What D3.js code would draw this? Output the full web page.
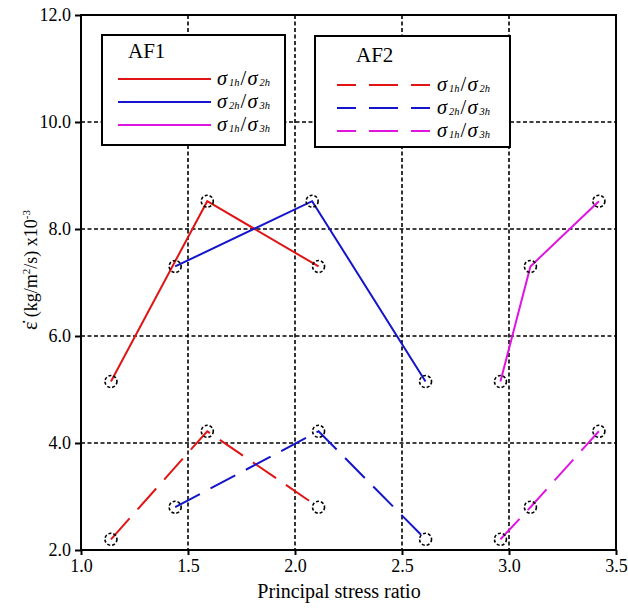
<!DOCTYPE html>
<html>
<head>
<meta charset="utf-8">
<script src="https://cdn.jsdelivr.net/npm/d3@7"></script>
<style>
  html, body { margin: 0; padding: 0; background: #fff; }
  svg { display: block; }
  text { font-family: "Liberation Serif", "Times New Roman", serif; fill: #000; }
</style>
</head>
<body>
<svg id="chart" width="628" height="608"></svg>
<script>
// Principal stress ratio for each loading path
const ratioRed     = [1.14, 1.59, 2.11];
const ratioBlueAF1 = [1.44, 2.08, 2.61];
const ratioBlueAF2 = [1.44, 2.11, 2.61];
const ratioMagenta = [2.96, 3.10, 3.42];

// Strain rate values (x10^-3 kg/m²/s)
const af1Red     = [5.15, 8.52, 7.30];
const af1Blue    = [7.30, 8.52, 5.15];
const af1Magenta = [5.15, 7.30, 8.52];
const af2Red     = [2.20, 4.22, 2.80];
const af2Blue    = [2.80, 4.22, 2.20];
const af2Magenta = [2.20, 2.80, 4.22];

const xTicks = [1.0, 1.5, 2.0, 2.5, 3.0, 3.5];
const yTicks = [2.0, 4.0, 6.0, 8.0, 10.0, 12.0];
const pathLabels = [["1h", "2h"], ["2h", "3h"], ["1h", "3h"]];
const pathColors = ["#e01414", "#1414cc", "#e014e0"];

const SERIF = "Liberation Serif, Times New Roman, serif";
const svg = d3.select("#chart");
const pL = 81, pR = 616, pT = 15, pB = 550;

const x = d3.scaleLinear().domain([1.0, 3.5]).range([pL, pR]);
const y = d3.scaleLinear().domain([2.0, 12.0]).range([pB, pT]);

// Dashed grid
const grid = svg.append("g");
grid.selectAll("line.vg").data(xTicks.slice(1, -1)).join("line")
  .attr("x1", d => x(d)).attr("x2", d => x(d))
  .attr("y1", pT).attr("y2", pB)
  .attr("stroke", "#000").attr("stroke-width", 1.6).attr("stroke-dasharray", "4,2.5");
grid.selectAll("line.hg").data(yTicks.slice(1, -1)).join("line")
  .attr("x1", pL).attr("x2", pR)
  .attr("y1", d => y(d)).attr("y2", d => y(d))
  .attr("stroke", "#000").attr("stroke-width", 1.6).attr("stroke-dasharray", "4,2.5");

// Axes
const xAxis = d3.axisBottom(x).tickValues(xTicks).tickFormat(d3.format(".1f")).tickSize(5).tickPadding(4);
const yAxis = d3.axisLeft(y).tickValues(yTicks).tickFormat(d3.format(".1f")).tickSize(6).tickPadding(4);

const gx = svg.append("g").attr("transform", `translate(0,${pB})`).call(xAxis);
const gy = svg.append("g").attr("transform", `translate(${pL},0)`).call(yAxis);
[gx, gy].forEach(g => {
  g.attr("font-family", SERIF).attr("font-size", 18);
  g.select(".domain").remove();
  g.selectAll(".tick line").attr("stroke", "#000").attr("stroke-width", 2);
  g.selectAll(".tick text")
    .attr("font-family", SERIF).attr("font-size", 18)
    .style("font-family", SERIF).style("fill", "#000");
});

// Frame
svg.append("rect")
  .attr("x", pL).attr("y", pT).attr("width", pR - pL).attr("height", pB - pT)
  .attr("fill", "none").attr("stroke", "#000").attr("stroke-width", 2);

// Axis titles
svg.append("text")
  .attr("x", 339).attr("y", 598).attr("text-anchor", "middle").style("font-size", "20px")
  .text("Principal stress ratio");

const yt = svg.append("text")
  .attr("transform", "translate(37,270) rotate(-90)")
  .attr("text-anchor", "middle").style("font-size", "18px");
yt.append("tspan").style("font-size", "20px").text("ε\u0307");
yt.append("tspan").text(" (kg/m");
yt.append("tspan").style("font-size", "11px").attr("dy", -7).text("2");
yt.append("tspan").attr("dy", 7).text("/s) x10");
yt.append("tspan").style("font-size", "11px").attr("dy", -7).text("-3");

// Data series
const line = d3.line().x(d => x(d[0])).y(d => y(d[1]));
const series = [
  { xs: ratioRed,     ys: af1Red,     c: 0, dash: null },
  { xs: ratioBlueAF1, ys: af1Blue,    c: 1, dash: null },
  { xs: ratioMagenta, ys: af1Magenta, c: 2, dash: null },
  { xs: ratioRed,     ys: af2Red,     c: 0, dash: "28,12" },
  { xs: ratioBlueAF2, ys: af2Blue,    c: 1, dash: "28,12" },
  { xs: ratioMagenta, ys: af2Magenta, c: 2, dash: "28,12" }
];

const plot = svg.append("g");
series.forEach(s => {
  const pts = s.xs.map((v, i) => [v, s.ys[i]]);
  plot.append("path").datum(pts)
    .attr("d", line).attr("fill", "none")
    .attr("stroke", pathColors[s.c]).attr("stroke-width", 2)
    .attr("stroke-dasharray", s.dash);
});
series.forEach(s => {
  const pts = s.xs.map((v, i) => [v, s.ys[i]]);
  plot.selectAll(null).data(pts).join("circle")
    .attr("cx", d => x(d[0])).attr("cy", d => y(d[1])).attr("r", 6)
    .attr("fill", "none").attr("stroke", "#000").attr("stroke-width", 1.6)
    .attr("stroke-dasharray", "3,2");
});

// Stress-ratio label σa/σb, laid out piece by piece from measured widths
function ratioLabel(g, x0, baseline, lab) {
  const pieces = [
    { t: "σ", size: 20.5, italic: true, dy: 0, gap: 1 },
    { t: lab[0], size: 10.5, italic: true, dy: 1, gap: 1 },
    { t: "/", size: 20.5, italic: false, dy: 0, gap: 1 },
    { t: "σ", size: 20.5, italic: true, dy: 0, gap: 1 },
    { t: lab[1], size: 10.5, italic: true, dy: 1, gap: 0 }
  ];
  let cx = x0;
  pieces.forEach(p => {
    const el = g.append("text").attr("x", cx).attr("y", baseline + p.dy)
      .style("font-size", p.size + "px")
      .style("font-style", p.italic ? "italic" : "normal")
      .text(p.t);
    const b = el.node().getBoundingClientRect();
    cx = Math.max(cx + el.node().getComputedTextLength(), b.right) + p.gap;
  });
}

// Legends
function legend(bx, by, bw, bh, title, titleX, titleY, rowY, lx1, lx2, tx, dash, offset) {
  const g = svg.append("g");
  g.append("rect").attr("x", bx).attr("y", by).attr("width", bw).attr("height", bh)
    .attr("fill", "#fff").attr("stroke", "#000").attr("stroke-width", 2);
  g.append("text").attr("x", titleX).attr("y", titleY).style("font-size", "21px").text(title);
  pathLabels.forEach((lab, i) => {
    const ly = rowY[i];
    g.append("line").attr("x1", lx1).attr("x2", lx2).attr("y1", ly).attr("y2", ly)
      .attr("stroke", pathColors[i]).attr("stroke-width", 2)
      .attr("stroke-dasharray", dash).attr("stroke-dashoffset", offset);
    ratioLabel(g, tx, ly + 6, lab);
  });
}
legend(102, 35, 183, 110, "AF1", 128, 58, [79, 102, 125], 118, 211, 217, null, 0);
legend(315, 36, 195, 111, "AF2", 356, 62, [85, 108, 131], 337, 430, 437, "29,13", 10);
</script>
</body>
</html>
